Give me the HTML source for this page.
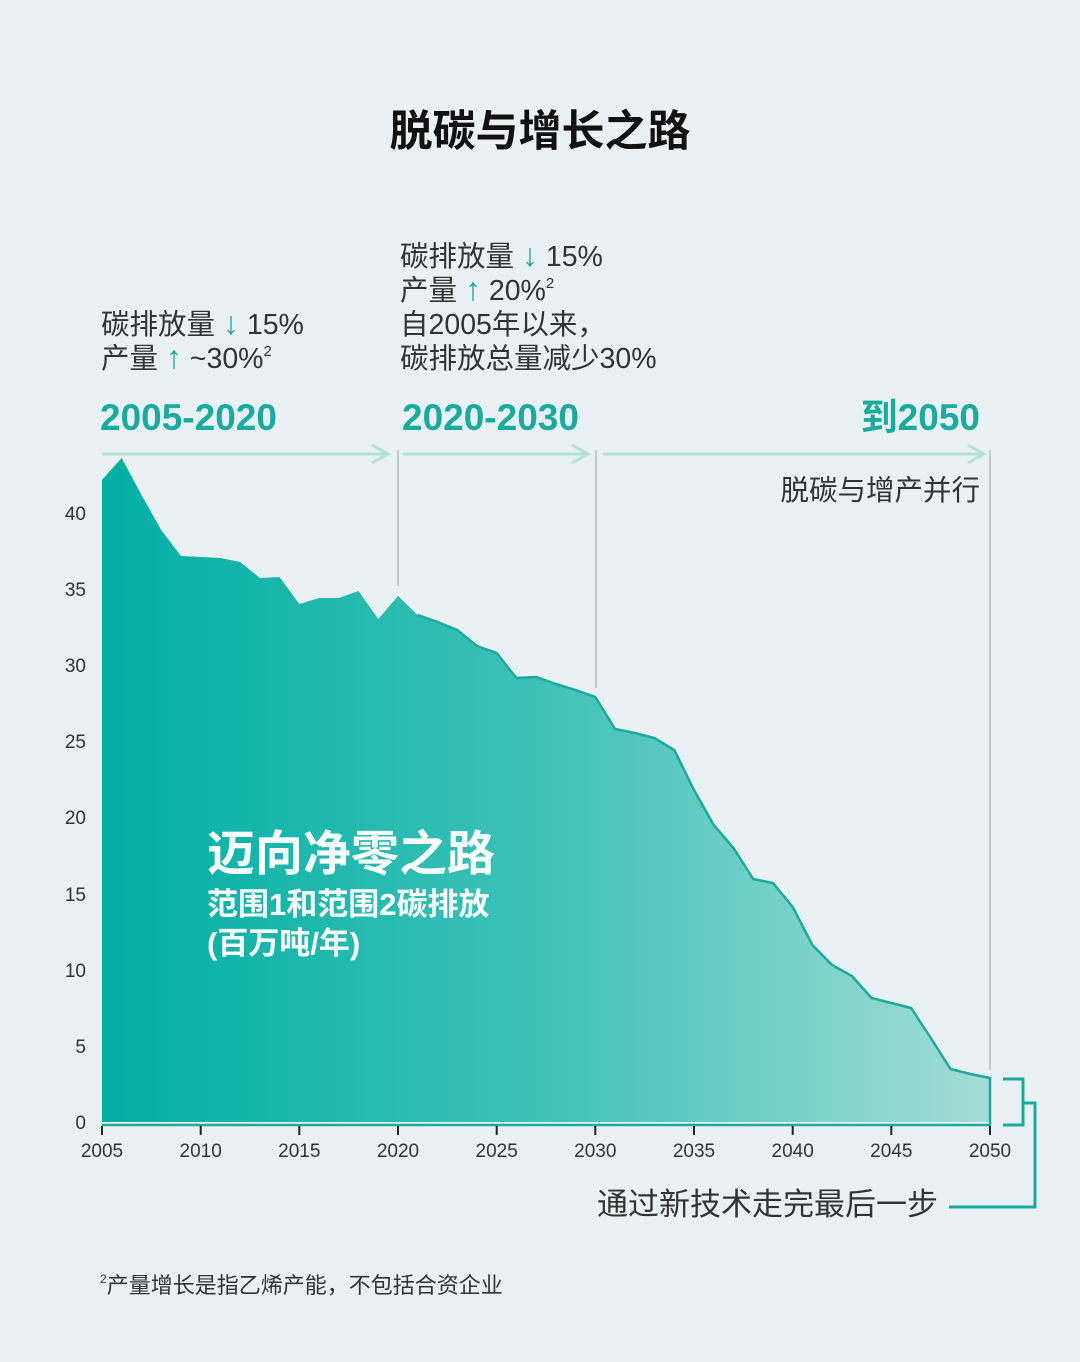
<!DOCTYPE html>
<html><head><meta charset="utf-8"><style>
html,body{margin:0;padding:0;background:#e9f1f4;}
svg{display:block;font-family:"Liberation Sans","Noto Sans CJK SC",sans-serif;}
</style></head><body>
<svg width="1080" height="1362" viewBox="0 0 1080 1362" xmlns="http://www.w3.org/2000/svg">
<defs>
<linearGradient id="g" x1="102" y1="0" x2="990" y2="0" gradientUnits="userSpaceOnUse">
<stop offset="0" stop-color="#00aea3"/>
<stop offset="0.5" stop-color="#3fc2b8"/>
<stop offset="1" stop-color="#a4ddd6"/>
</linearGradient>
</defs>
<rect width="1080" height="1362" fill="#e9f1f4"/>
<text x="540" y="146" text-anchor="middle" font-size="43" font-weight="bold" fill="#111">脱碳与增长之路</text>

<g font-size="28.5" fill="#333">
<text x="101" y="334">碳排放量 <tspan fill="#1aab9f" font-size="32" font-weight="bold">↓</tspan> 15%</text>
<text x="101" y="368">产量 <tspan fill="#1aab9f" font-size="32" font-weight="bold">↑</tspan> ~30%<tspan font-size="15" dy="-12">2</tspan></text>
<text x="400" y="266">碳排放量 <tspan fill="#1aab9f" font-size="32" font-weight="bold">↓</tspan> 15%</text>
<text x="400" y="300">产量 <tspan fill="#1aab9f" font-size="32" font-weight="bold">↑</tspan> 20%<tspan font-size="15" dy="-12">2</tspan></text>
<text x="400" y="334">自2005年以来，</text>
<text x="400" y="368">碳排放总量减少30%</text>
<text x="980" y="500" text-anchor="end">脱碳与增产并行</text>
</g>
<g font-size="37" font-weight="bold" fill="#1aab9f">
<text x="100" y="430">2005-2020</text>
<text x="402" y="430">2020-2030</text>
<text x="980" y="430" text-anchor="end">到2050</text>
</g>
<g stroke="#b3e2da" stroke-width="3" fill="none">
<line x1="102" y1="454" x2="388" y2="454"/><polyline points="372,445 388,454 372,463"/>
<line x1="403" y1="454" x2="588" y2="454"/><polyline points="572,445 588,454 572,463"/>
<line x1="603" y1="454" x2="984" y2="454"/><polyline points="968,445 984,454 968,463"/>
</g>
<g stroke="#b5bfc3" stroke-width="1.5">
<line x1="398" y1="450" x2="398" y2="586"/>
<line x1="596" y1="450" x2="596" y2="688"/>
<line x1="990" y1="450" x2="990" y2="1070"/>
</g>
<polygon fill="url(#g)" points="102,1122 102,480 121.7,458 141.5,495 161.2,530 180.9,556 200.7,557 220.4,558 240.1,562 259.9,578 279.6,577 299.3,604 319.1,598 338.8,598 358.5,591 378.3,619 398,596 417.7,615 437.5,622 457.2,630 476.9,646 496.7,653 516.4,678 536.1,677 555.9,684 575.6,690 595.3,697 615.1,729 634.8,733 654.5,738 674.3,750 694,790 713.7,825 733.5,848 753.2,879 772.9,883 792.7,907 812.4,945 832.1,965 851.9,976 871.6,998 891.3,1003 911.1,1008 930.8,1038 950.5,1069 970.3,1074 990,1078 990,1122"/>
<polyline fill="none" stroke="#1aab9f" stroke-width="2.5" points="417.7,615 437.5,622 457.2,630 476.9,646 496.7,653 516.4,678 536.1,677 555.9,684 575.6,690 595.3,697 615.1,729 634.8,733 654.5,738 674.3,750 694,790 713.7,825 733.5,848 753.2,879 772.9,883 792.7,907 812.4,945 832.1,965 851.9,976 871.6,998 891.3,1003 911.1,1008 930.8,1038 950.5,1069 970.3,1074 990,1078 990,1125 102,1125"/>
<g stroke="#222" stroke-width="2">
<line x1="102" y1="1126" x2="102" y2="1135"/><line x1="200.7" y1="1126" x2="200.7" y2="1135"/><line x1="299.3" y1="1126" x2="299.3" y2="1135"/><line x1="398" y1="1126" x2="398" y2="1135"/><line x1="496.7" y1="1126" x2="496.7" y2="1135"/><line x1="595.3" y1="1126" x2="595.3" y2="1135"/><line x1="694" y1="1126" x2="694" y2="1135"/><line x1="792.7" y1="1126" x2="792.7" y2="1135"/><line x1="891.3" y1="1126" x2="891.3" y2="1135"/><line x1="990" y1="1126" x2="990" y2="1135"/>
</g>
<g font-size="19" fill="#333" text-anchor="middle">
<text x="102" y="1157">2005</text><text x="200.7" y="1157">2010</text><text x="299.3" y="1157">2015</text><text x="398" y="1157">2020</text><text x="496.7" y="1157">2025</text><text x="595.3" y="1157">2030</text><text x="694" y="1157">2035</text><text x="792.7" y="1157">2040</text><text x="891.3" y="1157">2045</text><text x="990" y="1157">2050</text>
</g>
<g font-size="19" fill="#333" text-anchor="end">
<text x="86" y="1129">0</text><text x="86" y="1053">5</text><text x="86" y="977">10</text><text x="86" y="901">15</text><text x="86" y="824">20</text><text x="86" y="748">25</text><text x="86" y="672">30</text><text x="86" y="596">35</text><text x="86" y="520">40</text>
</g>
<g fill="#fff" font-weight="bold">
<text x="207" y="870" font-size="48">迈向净零之路</text>
<text x="207" y="915" font-size="31">范围1和范围2碳排放</text>
<text x="207" y="954" font-size="31">(百万吨/年)</text>
</g>
<g stroke="#1aab9f" stroke-width="3" fill="none">
<polyline points="1003,1079 1023,1079 1023,1125 1003,1125"/>
<polyline points="1023,1103 1035,1103 1035,1207 949,1207"/>
</g>
<text x="938" y="1215" text-anchor="end" font-size="31" fill="#333">通过新技术走完最后一步</text>
<text x="100" y="1293" font-size="22" fill="#333"><tspan font-size="12" dy="-10">2</tspan><tspan dy="10">产量增长是指乙烯产能，不包括合资企业</tspan></text>
</svg>
</body></html>
